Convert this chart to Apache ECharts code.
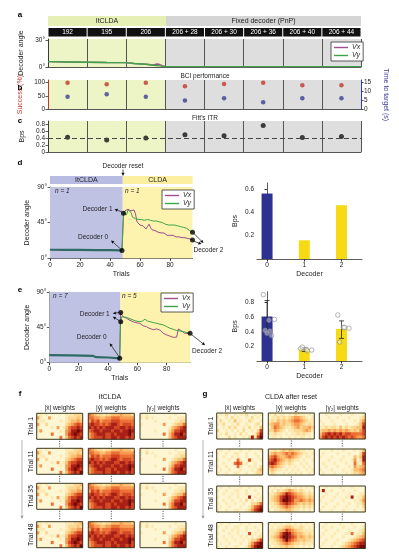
<!DOCTYPE html>
<html>
<head>
<meta charset="utf-8">
<script src="https://cdn.jsdelivr.net/npm/echarts@6/dist/echarts.min.js"></script>
<style>
html,body{margin:0;padding:0;background:#fff}
#main{width:399px;height:559px}
</style>
</head>
<body>
<div id="main"></div>
<script>
const FONT = '"Liberation Sans", Arial, sans-serif';

// a-c: session summary
const sessionLabels = ['192', '195', '206', '206 + 28', '206 + 30', '206 + 36', '206 + 40', '206 + 44'];
const aVy = [[0, 5.9], [0.5, 5.6], [1, 5.3], [1.5, 5.0], [2, 4.8], [2.2, 3.9], [2.5, 3.0], [2.7, 2.0], [2.85, 1.2], [3, 0.5], [4, 0.4], [5, 0.4], [6, 0.4], [7, 0.4], [8, 0.4]];
const aVx = [[0, 5.9], [0.5, 5.6], [1, 5.3], [1.5, 5.0], [2, 4.8], [2.2, 3.9], [2.5, 3.0], [2.7, 2.2], [2.78, 3.3], [2.86, 2.7], [2.93, 1.2], [3, 0.5], [4, 0.4], [5, 0.4], [6, 0.4], [7, 0.4], [8, 0.4]];
const successPct = [100, 94, 100, 87, 95, 100, 90, 90];
const timeToTarget = [7.1, 8.5, 7.1, 4.9, 6.2, 4.0, 6.2, 6.2];
const fittsItr = [0.43, 0.35, 0.41, 0.50, 0.47, 0.77, 0.42, 0.45];
const itrMean = 0.41;

// d: single session reset
const dPre = [[0, 10.8], [10, 10.7], [20, 10.6], [30, 10.4], [40, 10.2], [48, 10.0]];
const dVx = [[48, 10], [49, 57], [50, 60], [51, 58], [52, 62], [53, 64], [54, 60], [55, 58], [56, 61], [57, 56], [58, 46], [59, 44], [60, 42], [61, 40], [62, 41], [63, 39], [64, 37], [65, 40], [66, 43], [67, 39], [68, 36], [69, 37], [70, 35], [71, 36], [72, 33], [73, 34], [74, 32], [75, 31], [76, 32], [77, 30], [78, 29], [79, 31], [80, 29], [81, 28], [82, 29], [83, 28], [84, 27], [85, 28], [86, 27], [87, 28], [88, 26], [89, 27], [90, 26], [91, 27], [92, 25], [93, 25], [94, 24], [95, 23]];
const dVy = [[48, 10], [49, 57], [50, 58], [51, 55], [52, 61], [53, 63], [54, 58], [55, 52], [56, 54], [57, 50], [58, 51], [59, 49], [60, 48], [61, 49], [62, 47], [63, 48], [64, 47], [65, 49], [66, 51], [67, 48], [68, 46], [69, 47], [70, 46], [71, 47], [72, 45], [73, 46], [74, 44], [75, 45], [76, 44], [77, 43], [78, 44], [79, 42], [80, 43], [81, 42], [82, 41], [83, 42], [84, 40], [85, 41], [86, 39], [87, 40], [88, 38], [89, 39], [90, 37], [91, 38], [92, 36], [93, 35], [94, 34], [95, 33]];
const dBps = [0.56, 0.16, 0.46];

// e: all sessions
const ePre = [[0, 9.6], [15, 9.3], [30, 8.6], [32, 7.0], [40, 6.6], [48, 5.6]];
const eVx = [[48, 5.6], [48.6, 64], [49.3, 60.7], [51, 58], [52.7, 56.5], [55, 54], [57.2, 52], [59, 51], [61.8, 50], [64, 47], [66.3, 45.8], [68, 44], [70.9, 42], [73, 43], [75.4, 41.6], [77.7, 37.4], [80, 35.3], [82, 34], [84.5, 32.3], [86.8, 32.5], [88, 43], [89, 41.6], [90.5, 40], [92.4, 37.4], [96, 37.4]];
const eVy = [[48, 5.6], [48.6, 52], [49.3, 58.6], [51, 58], [52.7, 57.7], [55, 56], [57.2, 54.4], [59, 53], [61.8, 52.3], [63.5, 53], [65.2, 55.3], [67, 53], [68.6, 52.3], [71, 51], [73.1, 50.2], [75.5, 49], [77.7, 48.1], [80, 46], [82.2, 43.9], [84.5, 42.5], [86.8, 41], [89, 40.5], [91.3, 39.6], [93.5, 38.5], [96, 37.4]];
const eBps = [0.61, 0.16, 0.44];
const eErr = [[0.39, 0.83], [0.13, 0.18], [0.31, 0.55]];
const eSessions0 = [0.91, 0.56, 0.57, 0.42, 0.41, 0.38, 0.35];
const eSessions1 = [0.17, 0.16, 0.15, 0.19, 0.14];
const eSessions2 = [0.63, 0.46, 0.45, 0.26, 0.46];

// f/g: weight maps, 8 rows x 16 electrodes, intensity 0-9
const fT1x = ['2212111111222333', '5211511111233343', '2221111121234454', '5113111111345676', '2111121512467787', '2511111121568898', '1111161111578987', '1111111161467878'];
const fT1b = ['6543323344454443', '6655445566655555', '5767566677766666', '7877676788767776', '8787878887788787', '6788788878878898', '5678887787888897', '5677787788788787'];
const fT1g = ['2121111111112111', '2131211111211222', '1111121111112233', '2111111151123446', '1111111111245678', '1111121111357788', '1111111161468897', '1111111111467888'];
const fT11x = ['2212111111222334', '5211511111233343', '2221111121234455', '5113111111345677', '2111121512467788', '2511111121568898', '1111161111578987', '1111111161467879'];
const fT11b = ['6543323344454443', '6655445566655555', '5767566677766666', '7877676788767776', '8787878887788787', '6788788878878898', '5678887787888897', '5677787788788787'];
const fT11g = ['2121111111112111', '2131211111211222', '1111121111112233', '2111111151123446', '1111111111245678', '1111121111357788', '1111111161468897', '1111111111467888'];
const fT35x = ['2212111111222334', '5211511111233343', '2221111121234455', '5113111111345677', '2111121512467788', '2511111121568898', '1111161111578987', '1111111161467879'];
const fT35b = ['6543323344454443', '6655445566655555', '5767566677766666', '7877676788767776', '8787878887788787', '6788788878878898', '5678887787888897', '5677787788788787'];
const fT35g = ['2121111111112111', '2131211111211222', '1111121111112233', '2111111151123446', '1111111111245678', '1111121111357788', '1111111161468897', '1111111111467888'];
const fT48x = ['2212111111222334', '5211511111233343', '2221111121234455', '5113111111345677', '2111121512467788', '2511111121568898', '1111161111578987', '1111111161467879'];
const fT48b = ['6543323344454443', '6655445566655555', '5767566677766666', '7877676788767776', '8787878887788787', '6788788878878898', '5678887787888897', '5677787788788787'];
const fT48g = ['2121111111112111', '2131211111211222', '1111121111112233', '2111111151123446', '1111111111245678', '1111121111357788', '1111111161468897', '1111111111467888'];

const gT1x = ['1213112121311212', '2112131211213121', '1311214121132112', '2131121311211231', '1121313112131214', '3112121213112137', '1213112131211258', '2111312112138279'];
const gT1b = ['2131221213222121', '1223232345543212', '2324343456654322', '3455343345543232', '2465432234534453', '3354321223334542', '2232212122323221', '1221211212122121'];
const gT1g = ['1121111211121112', '1112112111211123', '2111211121112135', '1211121112111247', '2232332423233448', '3445454545434357', '4678787867766667', '5787878787676556'];
const gT11x = ['1211211121121112', '2112112211211211', '1121121211211121', '2111211621172112', '1121116761211211', '2112111621121213', '1211211121112134', '2112112211211233'];
const gT11b = ['2232343443322121', '3454456565432212', '5675445654321221', '6786543432212112', '7875432321121211', '5654321212112121', '3432212121211212', '2321121212121121'];
const gT11g = ['1111211121112124', '1211112111211137', '2111211121114248', '1112111211125138', '1211121112116226', '1121112111215345', '2111211121124456', '1211121112123345'];
const gT35x = ['1211211121121112', '2112112211211211', '1121121211211121', '2111211211181212', '1121121121312122', '2112112112113346', '1211211121124678', '2112112211235789'];
const gT35b = ['2121212212121212', '1213234543232121', '2234568765443232', '2345789876554343', '2345799875565454', '2234678765434343', '1223456543323232', '2122334432212121'];
const gT35g = ['1121111211121111', '2811211121112111', '1121112111211122', '1211121112181224', '2111211121112135', '1121112111211224', '1211121112111213', '2111211121112112'];
const gT48x = ['1211211121121112', '2112112211211211', '1121121211211121', '2111211211171212', '1121121121212123', '2112112112123357', '1211211121135789', '2112112211246899'];
const gT48b = ['2121212212121212', '1212234432232121', '2223457654332222', '2234689865443232', '2345799876454343', '2234579765434332', '1223456543323222', '2122334332212121'];
const gT48g = ['1121111211121111', '1211211121112112', '1121112111211123', '1211121112161224', '2111211121112345', '1121112111234567', '1211121123456788', '2111211234567899'];

const trialLabels = ['Trial 1', 'Trial 11', 'Trial 35', 'Trial 48'];
const weightLabels = ['|ẋ| weights', '|ẏ| weights', '|γ₂| weights'];

const fMaps = [[fT1x, fT1b, fT1g], [fT11x, fT11b, fT11g], [fT35x, fT35b, fT35g], [fT48x, fT48b, fT48g]];
const gMaps = [[gT1x, gT1b, gT1g], [gT11x, gT11b, gT11g], [gT35x, gT35b, gT35g], [gT48x, gT48b, gT48g]];

const C = {
    vx: '#a04f8c', vy: '#3da548', red: '#c2372e', blue: '#3b3d94',
    green: '#edf4c6', gray: '#dedede', lav: '#c0c2e4', yel: '#fdf2ae',
    barBlue: '#2d3190', barYel: '#f6da14', ink: '#222'
};

const chart = echarts.init(document.getElementById('main'));

const grids = [], xAxes = [], yAxes = [], series = [], graphics = [];

function axisBase(extra) {
    return Object.assign({
        axisLine: {lineStyle: {color: '#333', width: 0.8}},
        axisTick: {length: 2.5, lineStyle: {color: '#333', width: 0.8}},
        axisLabel: {fontSize: 6.5, color: C.ink, margin: 3, fontFamily: FONT},
        splitLine: {show: false},
        nameTextStyle: {fontSize: 7, color: C.ink, fontFamily: FONT}
    }, extra);
}
function grid(left, top, width, height, extra) {
    grids.push(Object.assign({left, top, width, height, outerBoundsMode: 'none'}, extra || {}));
    return grids.length - 1;
}

// session panels (a, b, c) share the column background
const sessionX = gi => axisBase({
    type: 'value', gridIndex: gi, min: 0, max: 8, interval: 1,
    axisLabel: {show: false}, axisTick: {show: false},
    axisLine: {lineStyle: {color: '#555', width: 1}},
    splitLine: {show: true, lineStyle: {color: '#555', width: 1}},
    splitArea: {show: true, areaStyle: {color: [C.green, C.green, C.green, C.gray, C.gray, C.gray, C.gray, C.gray]}}
});
const mid = arr => arr.map((v, i) => [i + 0.5, v]);

// a
const gA = grid(48, 39, 313, 28);
xAxes.push(sessionX(gA));
yAxes.push(axisBase({type: 'value', gridIndex: gA, min: 0, max: 31, interval: 30,
    axisLabel: {fontSize: 6.5, color: C.ink, margin: 3, showMaxLabel: false, formatter: v => v + '°'},
    name: 'Decoder angle', nameLocation: 'middle', nameGap: 17}));
series.push({type: 'line', name: 'Vx', xAxisIndex: 0, yAxisIndex: 0, data: aVx, symbol: 'none', lineStyle: {color: C.vx, width: 1.4}, itemStyle: {color: C.vx}, z: 3});
series.push({type: 'line', name: 'Vy', xAxisIndex: 0, yAxisIndex: 0, data: aVy, symbol: 'none', lineStyle: {color: C.vy, width: 1.4}, itemStyle: {color: C.vy}, z: 3});

// b
const gB = grid(48, 80, 313, 29.3);
xAxes.push(sessionX(gB));
yAxes.push(axisBase({type: 'value', gridIndex: gB, min: 0, max: 110, interval: 50,
    axisLine: {lineStyle: {color: C.red, width: 1}},
    axisLabel: {fontSize: 6.5, color: C.ink, margin: 3, showMaxLabel: false},
    name: 'Success (%)', nameLocation: 'middle', nameGap: 17,
    nameTextStyle: {fontSize: 7, color: C.red, fontFamily: FONT}}));
yAxes.push(axisBase({type: 'value', gridIndex: gB, position: 'right', min: 0, max: 16.5, interval: 5,
    axisLine: {show: true, lineStyle: {color: C.blue, width: 1}},
    axisTick: {show: true, length: 2.5, lineStyle: {color: C.blue}},
    axisLabel: {fontSize: 6.5, color: C.ink, margin: 3, showMaxLabel: false},
    name: 'Time to target (s)', nameLocation: 'middle', nameGap: 15, nameRotate: -90,
    nameTextStyle: {fontSize: 7, color: C.blue, fontFamily: FONT}}));
series.push({type: 'scatter', xAxisIndex: 1, yAxisIndex: 1, data: mid(successPct), symbolSize: 4.5, itemStyle: {color: C.red}, z: 3});
series.push({type: 'scatter', xAxisIndex: 1, yAxisIndex: 2, data: mid(timeToTarget), symbolSize: 4.5, itemStyle: {color: C.blue}, z: 3});

// c
const gC = grid(48, 121, 313, 31);
xAxes.push(sessionX(gC));
yAxes.push(axisBase({type: 'value', gridIndex: gC, min: 0, max: 0.9, interval: 0.2,
    axisLabel: {fontSize: 6.5, color: C.ink, margin: 3, showMaxLabel: false},
    name: 'Bps', nameLocation: 'middle', nameGap: 17}));
series.push({type: 'scatter', xAxisIndex: 2, yAxisIndex: 3, data: mid(fittsItr), symbolSize: 5, itemStyle: {color: '#111'}, z: 3,
    markLine: {silent: true, symbol: 'none', label: {show: false},
        lineStyle: {color: '#444', type: [5, 3], width: 1.1},
        data: [{yAxis: itrMean}]}});

// d and e trial panels
function trialPanel(left, top, width, height, maxT, pre, vx, vy, dots, xi, yi) {
    const gi = grid(left, top, width, height);
    xAxes.push(axisBase({type: 'value', gridIndex: gi, min: 0, max: maxT,
        axisLabel: {fontSize: 6.5, color: C.ink, margin: 3, customValues: [0, 20, 40, 60, 80]},
        axisTick: {length: 2.5, lineStyle: {color: '#333'}, customValues: [0, 20, 40, 60, 80]},
        name: 'Trials', nameLocation: 'middle', nameGap: 12}));
    yAxes.push(axisBase({type: 'value', gridIndex: gi, min: 0, max: 90, interval: 45,
        axisLabel: {fontSize: 6.5, color: C.ink, margin: 3, formatter: v => v + '°'},
        name: 'Decoder angle', nameLocation: 'middle', nameGap: 19}));
    series.push({type: 'line', xAxisIndex: xi, yAxisIndex: yi, data: [], silent: true, z: 1,
        markArea: {silent: true, data: [
            [{xAxis: 0, itemStyle: {color: C.lav}}, {xAxis: 48.5}],
            [{xAxis: 48.5, itemStyle: {color: C.yel}}, {xAxis: maxT}]]}});
    series.push({type: 'line', name: 'Vx', xAxisIndex: xi, yAxisIndex: yi, data: pre, symbol: 'none', lineStyle: {color: '#2f6b64', width: 2.2}, z: 3});
    series.push({type: 'line', name: 'Vx', xAxisIndex: xi, yAxisIndex: yi, data: vx, symbol: 'none', lineStyle: {color: C.vx, width: 1}, z: 3});
    series.push({type: 'line', name: 'Vy', xAxisIndex: xi, yAxisIndex: yi, data: vy, symbol: 'none', lineStyle: {color: C.vy, width: 1}, z: 4});
    series.push({type: 'scatter', xAxisIndex: xi, yAxisIndex: yi, data: dots, symbolSize: 5, itemStyle: {color: '#000'}, z: 5});
    return gi;
}
function barPanel(top, height, maxY, ticks, bps, xi, yi) {
    const gi = grid(257, top, 105, height);
    xAxes.push(axisBase({type: 'value', gridIndex: gi, min: -0.27, max: 2.55,
        axisLabel: {fontSize: 6.5, color: C.ink, margin: 3, customValues: [0, 1, 2]},
        axisTick: {length: 2.5, lineStyle: {color: '#333'}, customValues: [0, 1, 2]},
        name: 'Decoder', nameLocation: 'middle', nameGap: 12}));
    yAxes.push(axisBase({type: 'value', gridIndex: gi, min: 0, max: maxY,
        axisLabel: {fontSize: 6.5, color: C.ink, margin: 3, customValues: ticks},
        axisTick: {length: 2.5, lineStyle: {color: '#333'}, customValues: ticks},
        name: 'Bps', nameLocation: 'middle', nameGap: 18}));
    series.push({type: 'bar', xAxisIndex: xi, yAxisIndex: yi, barWidth: 11, z: 2,
        data: bps.map((v, i) => ({value: [i, v], itemStyle: {color: i === 0 ? C.barBlue : C.barYel}}))});
    return gi;
}

const decoderDotsD = [[48, 10], [49, 57], [95, 33], [95, 23]];
const decoderDotsE = [[48, 5.6], [48.7, 64], [48.7, 52], [96, 37.4]];
const gD = trialPanel(50, 187, 142.5, 71.3, 95, dPre, dVx, dVy, decoderDotsD, 3, 4);
const gDb = barPanel(183, 76, 0.65, [0.2, 0.4, 0.6], dBps, 4, 5);
const gE = trialPanel(49.3, 292, 140.8, 70.7, 96, ePre, eVx, eVy, decoderDotsE, 5, 6);
const gEb = barPanel(291.7, 69.3, 0.95, [0.2, 0.4, 0.6, 0.8], eBps, 6, 7);

// e error bars and per-session dots
series.push({type: 'custom', xAxisIndex: 6, yAxisIndex: 7, z: 3,
    data: eErr.map((r, i) => [i, r[0], r[1]]),
    renderItem: (params, api) => {
        const lo = api.coord([api.value(0), api.value(1)]);
        const hi = api.coord([api.value(0), api.value(2)]);
        const st = {stroke: '#222', lineWidth: 0.8};
        return {type: 'group', children: [
            {type: 'line', shape: {x1: lo[0], y1: lo[1], x2: hi[0], y2: hi[1]}, style: st},
            {type: 'line', shape: {x1: hi[0] - 2.5, y1: hi[1], x2: hi[0] + 2.5, y2: hi[1]}, style: st},
            {type: 'line', shape: {x1: lo[0] - 2.5, y1: lo[1], x2: lo[0] + 2.5, y2: lo[1]}, style: st}
        ]};
    }});
const jitter = [-0.1, 0.05, 0.2, -0.05, 0.08, 0.0, 0.12];
const sessionDots = [eSessions0, eSessions1, eSessions2]
    .flatMap((arr, d) => arr.map((v, i) => [d + jitter[i % jitter.length], v]));
series.push({type: 'scatter', xAxisIndex: 6, yAxisIndex: 7, data: sessionDots, symbolSize: 4.5, z: 4,
    itemStyle: {color: 'rgba(255,255,255,0.5)', borderColor: '#8a8a8a', borderWidth: 0.8}});

// heatmaps
const heatW = 46, heatH = 26;
const fColsX = [36.7, 88.3, 140];
const gColsX = [216.7, 268.3, 319.3];
const fRowsY = [413.3, 448.3, 483.3, 521.7];
const gRowsY = [413, 449, 486, 522.5];
const heatSeries = [];
const cols16 = Array.from({length: 16}, (_, i) => i);
const rows8 = Array.from({length: 8}, (_, i) => i);
function addHeat(x, y, rowsStr) {
    const gi = grid(x, y, heatW, heatH);
    xAxes.push({type: 'category', gridIndex: gi, data: cols16, show: false});
    yAxes.push({type: 'category', gridIndex: gi, data: rows8, inverse: true, show: false});
    const data = [];
    rowsStr.forEach((row, r) => row.split('').forEach((ch, c) => data.push([c, r, +ch])));
    heatSeries.push(series.length);
    series.push({type: 'heatmap', xAxisIndex: xAxes.length - 1, yAxisIndex: yAxes.length - 1, data, silent: true,
        itemStyle: {borderWidth: 0}, progressive: 0});
    graphics.push({type: 'rect', shape: {x, y, width: heatW, height: heatH}, style: {fill: 'none', stroke: '#3a3a22', lineWidth: 1}, z: 100});
}
[[fMaps, fColsX, fRowsY], [gMaps, gColsX, gRowsY]].forEach(([maps, xs, ys]) => {
    maps.forEach((trial, r) => trial.forEach((m, c) => addHeat(xs[c], ys[r], m)));
    // dotted connectors
    for (let r = 0; r < 3; r++) {
        xs.forEach(x => graphics.push({type: 'line', z: 100,
            shape: {x1: x + heatW / 2, y1: ys[r] + heatH + 1.5, x2: x + heatW / 2, y2: ys[r + 1] - 1.5},
            style: {stroke: '#333', lineWidth: 0.8, lineDash: [1.2, 1.2]}}));
    }
    xs.forEach((x, c) => graphics.push(txt(weightLabels[c], x + heatW / 2, 408, 6.5)));
    ys.forEach((y, r) => graphics.push(txt(trialLabels[r], xs[0] - 6, y + heatH / 2, 6.8, {rotation: Math.PI / 2})));
});

function txt(text, x, y, size, opt) {
    opt = opt || {};
    return {type: 'text', x, y, rotation: opt.rotation || 0, z: 110, silent: true,
        style: {text, fill: opt.color || C.ink, font: (opt.weight || 'normal') + ' ' + (opt.italic ? 'italic ' : '') + size + 'px ' + FONT,
            align: opt.align || 'center', textAlign: opt.align || 'center',
            verticalAlign: 'middle', textVerticalAlign: 'middle'}};
}
function rect(x, y, w, h, fill) {
    return {type: 'rect', shape: {x, y, width: w, height: h}, style: {fill}, z: 90, silent: true};
}
function arrow(x1, y1, x2, y2, color) {
    color = color || '#111';
    const a = Math.atan2(y2 - y1, x2 - x1), L = 3.2, W = 1.6;
    const bx = x2 - L * Math.cos(a), by = y2 - L * Math.sin(a);
    return [
        {type: 'line', z: 120, shape: {x1, y1, x2: bx, y2: by}, style: {stroke: color, lineWidth: 0.7}},
        {type: 'polygon', z: 120, shape: {points: [[x2, y2], [bx - W * Math.sin(a), by + W * Math.cos(a)], [bx + W * Math.sin(a), by - W * Math.cos(a)]]}, style: {fill: color}}
    ];
}

// panel letters
[['a', 20, 15], ['b', 20, 88], ['c', 20, 121], ['d', 20, 163], ['e', 20, 290], ['f', 20, 394], ['g', 205, 394]]
    .forEach(([t, x, y]) => graphics.push(txt(t, x, y, 8, {weight: 'bold', color: '#000'})));

// a headers
graphics.push(rect(48, 16, 118, 10, '#e6efb5'), rect(166, 16, 195, 10, '#d5d5d5'));
graphics.push(txt('ItCLDA', 107, 21.5, 7), txt('Fixed decoder (PnP)', 263.5, 21.5, 7));
sessionLabels.forEach((s, i) => {
    const w = 313 / 8;
    graphics.push(rect(48 + i * w + 0.5, 28, w - 1, 8.5, '#111'));
    graphics.push(txt(s, 48 + i * w + w / 2, 32.3, 6.5, {color: '#fff'}));
});
graphics.push(txt('BCI performance', 205, 76, 6.5), txt("Fitt's ITR", 205, 118.5, 6.5));

// d headers
graphics.push(txt('Decoder reset', 123, 166, 6.5));
graphics.push(...arrow(123, 169.5, 123, 176));
graphics.push(rect(50, 176, 72.75, 8, '#b9bce2'), rect(122.75, 176, 69.75, 8, '#fcef9f'));
graphics.push(txt('ItCLDA', 86.4, 180, 7), txt('CLDA', 157.6, 180, 7));
graphics.push(txt('n = 1', 55, 191.5, 6.5, {align: 'left', italic: true}), txt('n = 1', 125, 191.5, 6.5, {align: 'left', italic: true}));
graphics.push(txt('n = 7', 53, 296.5, 6.5, {align: 'left', italic: true}), txt('n = 5', 122, 296.5, 6.5, {align: 'left', italic: true}));

// f / g titles and time arrows
graphics.push(txt('ItCLDA', 110, 397, 7), txt('CLDA after reset', 291, 397, 7));
graphics.push(...arrow(22, 440, 22, 519, '#999'), ...arrow(203, 440, 203, 519, '#999'));

const legendBase = {
    data: ['Vx', 'Vy'], orient: 'vertical', icon: 'rect', itemWidth: 14, itemHeight: 1.4, itemGap: 1,
    padding: [2, 3], backgroundColor: '#fff', borderColor: '#333', borderWidth: 0.8, selectedMode: false,
    textStyle: {fontSize: 7, fontStyle: 'italic', color: C.ink, fontFamily: FONT, padding: [0, 0, 0, -1]}
};

chart.setOption({
    animation: false,
    textStyle: {fontFamily: FONT},
    grid: grids,
    xAxis: xAxes,
    yAxis: yAxes,
    legend: [
        Object.assign({left: 331, top: 42}, legendBase),
        Object.assign({left: 162, top: 190}, legendBase),
        Object.assign({left: 161, top: 293}, legendBase)
    ],
    visualMap: {show: false, type: 'continuous', min: 0, max: 9, seriesIndex: heatSeries,
        inRange: {color: ['#fffdf0', '#fef6d2', '#fdeab2', '#fcd893', '#fbbf72', '#f79c52', '#ec7035', '#d34623', '#a81f15', '#700808']}},
    series,
    graphic: graphics
});

// decoder annotations, placed through the axis scales
const px = (gi, p) => chart.convertToPixel({gridIndex: gi}, p);
const notes = [];
{
    const d0 = px(gD, decoderDotsD[0]), d1 = px(gD, decoderDotsD[1]), d2a = px(gD, decoderDotsD[2]), d2b = px(gD, decoderDotsD[3]);
    notes.push(txt('Decoder 0', d0[0] - 14, d0[1] - 13, 6.5, {align: 'right'}), ...arrow(d0[0] - 1, d0[1] - 1, d0[0] - 11, d0[1] - 10));
    notes.push(txt('Decoder 1', d1[0] - 11, d1[1] - 4, 6.5, {align: 'right'}), ...arrow(d1[0] - 1, d1[1] - 1, d1[0] - 9, d1[1] - 4));
    notes.push(txt('Decoder 2', d2b[0] + 1, d2b[1] + 10, 6.5, {align: 'left'}), ...arrow(d2a[0] + 1, d2a[1] + 1, d2b[0] + 11, d2b[1] + 3), ...arrow(d2b[0] + 1, d2b[1] + 1, d2b[0] + 9, d2b[1] + 4));
    const e0 = px(gE, decoderDotsE[0]), e1a = px(gE, decoderDotsE[1]), e1b = px(gE, decoderDotsE[2]), e2 = px(gE, decoderDotsE[3]);
    notes.push(txt('Decoder 0', e0[0] - 13, e0[1] - 21, 6.5, {align: 'right'}), ...arrow(e0[0] - 1, e0[1] - 2, e0[0] - 10, e0[1] - 15));
    notes.push(txt('Decoder 1', e1a[0] - 11, e1a[1] + 2, 6.5, {align: 'right'}), ...arrow(e1a[0] - 1, e1a[1], e1a[0] - 8, e1a[1] + 1), ...arrow(e1b[0] - 1, e1b[1] - 1, e1b[0] - 8, e1b[1] - 5));
    notes.push(txt('Decoder 2', e2[0] + 2, e2[1] + 18, 6.5, {align: 'left'}), ...arrow(e2[0] + 1, e2[1] + 1, e2[0] + 15, e2[1] + 12));
}
chart.setOption({graphic: graphics.concat(notes)});
</script>
</body>
</html>
